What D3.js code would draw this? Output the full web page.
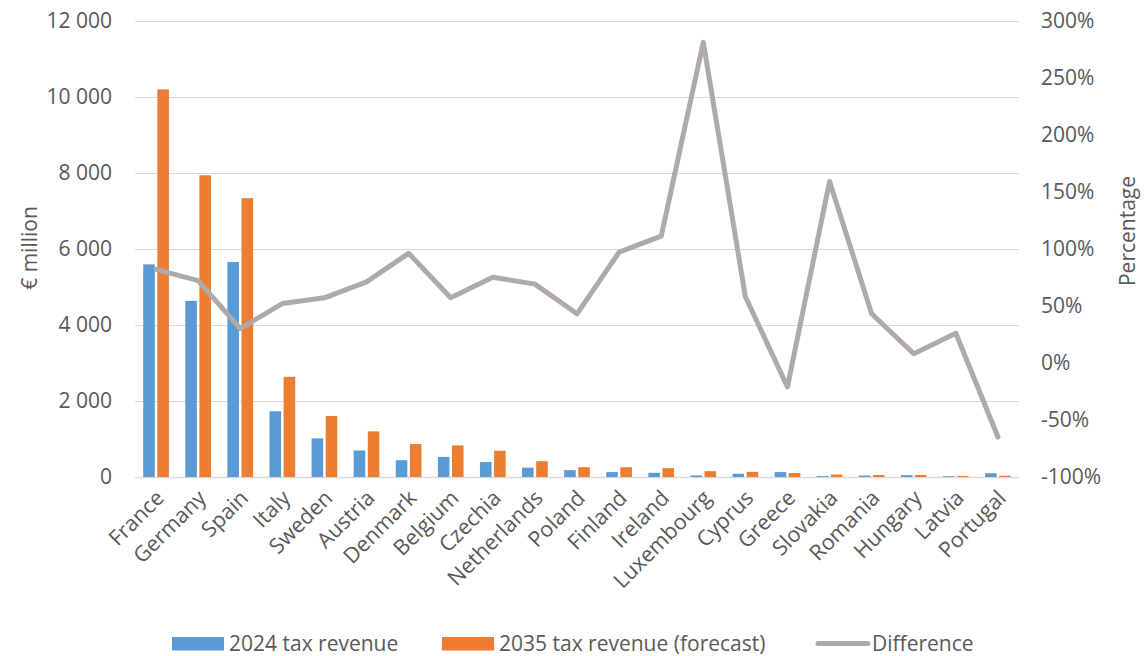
<!DOCTYPE html>
<html>
<head>
<meta charset="utf-8">
<script src="https://cdn.jsdelivr.net/npm/d3@7"></script>
<style>
  html, body { margin: 0; padding: 0; background: #ffffff; }
  svg { display: block; font-family: "Open Sans", sans-serif; }
</style>
</head>
<body>
<svg id="chart" width="1147" height="656"></svg>
<script>
// Tax revenue by country, € million, with percentage change on a second axis
const countries = ["France", "Germany", "Spain", "Italy", "Sweden", "Austria", "Denmark",
  "Belgium", "Czechia", "Netherlands", "Poland", "Finland", "Ireland", "Luxembourg",
  "Cyprus", "Greece", "Slovakia", "Romania", "Hungary", "Latvia", "Portugal"];
const revenue2024 = [5590, 4630, 5650, 1728, 1015, 697, 441, 528, 395, 245, 180, 130, 110,
  40, 85, 130, 25, 37, 48, 20, 98];
const revenue2035 = [10190, 7930, 7330, 2633, 1604, 1199, 865, 830, 690, 415, 258, 257, 232,
  153, 135, 103, 65, 53, 52, 25, 35];
const differencePct = [82, 72, 30, 52, 57, 71, 96, 57, 75, 69, 43, 97, 111, 281, 58, -21,
  159, 43, 8, 26, -65];
const leftTicks = [0, 2000, 4000, 6000, 8000, 10000, 12000];
const rightTicks = [-100, -50, 0, 50, 100, 150, 200, 250, 300];
const seriesNames = ["2024 tax revenue", "2035 tax revenue (forecast)", "Difference"];

const blue = "#5B9BD5", orange = "#ED7D31", grey = "#AEAAAA", textCol = "#595959";

const svg = d3.select("#chart");
const plot = { left: 135, right: 1019, top: 20.5, bottom: 477 };

const x = d3.scaleBand().domain(countries).range([plot.left, plot.right]).padding(0);
const inner = d3.scaleBand().domain(["a", "b"]).range([8.2, x.bandwidth() - 8.2]).paddingInner(0.18);
const yL = d3.scaleLinear().domain([0, 12000]).range([plot.bottom, plot.top]);
const yR = d3.scaleLinear().domain([-100, 300]).range([plot.bottom, plot.top]);

// gridlines from the left axis
svg.append("g").selectAll("line").data(leftTicks).join("line")
  .attr("x1", plot.left).attr("x2", plot.right)
  .attr("y1", d => Math.round(yL(d)) + 0.5).attr("y2", d => Math.round(yL(d)) + 0.5)
  .attr("stroke", "#D9D9D9").attr("stroke-width", d => d === 0 ? 1.5 : 1);

// left axis
const axL = svg.append("g").attr("transform", `translate(${plot.left},0)`)
  .call(d3.axisLeft(yL).tickValues(leftTicks).tickSize(0).tickPadding(23)
    .tickFormat(d => d3.format(",")(d).replace(/,/g, " ")));
axL.select(".domain").remove();
axL.selectAll("text").attr("font-size", 21).attr("fill", textCol).attr("font-family", "Open Sans");

// right axis
const axR = svg.append("g").attr("transform", `translate(${plot.right},0)`)
  .call(d3.axisRight(yR).tickValues(rightTicks).tickSize(0).tickPadding(22)
    .tickFormat(d => d + "%"));
axR.select(".domain").remove();
axR.selectAll("text").attr("font-size", 21).attr("fill", textCol).attr("font-family", "Open Sans");

// bars
const groups = svg.append("g").selectAll("g").data(countries).join("g")
  .attr("transform", d => `translate(${x(d)},0)`);
groups.append("rect")
  .attr("x", inner("a")).attr("width", inner.bandwidth())
  .attr("y", (d, i) => yL(revenue2024[i]))
  .attr("height", (d, i) => yL(0) - yL(revenue2024[i]))
  .attr("fill", blue);
groups.append("rect")
  .attr("x", inner("b")).attr("width", inner.bandwidth())
  .attr("y", (d, i) => yL(revenue2035[i]))
  .attr("height", (d, i) => yL(0) - yL(revenue2035[i]))
  .attr("fill", orange);

// difference line
const line = d3.line()
  .x((d, i) => x(countries[i]) + x.bandwidth() / 2)
  .y(d => yR(d));
svg.append("path").datum(differencePct)
  .attr("d", line).attr("fill", "none")
  .attr("stroke", grey).attr("stroke-width", 5)
  .attr("stroke-linejoin", "round").attr("stroke-linecap", "round");

// category labels, rotated
svg.append("g").selectAll("text").data(countries).join("text")
  .attr("transform", d => `translate(${x(d) + x.bandwidth() / 2 + 4},${plot.bottom + 17}) rotate(-45)`)
  .attr("text-anchor", "end").attr("dy", "0.35em")
  .attr("font-size", 21.5).attr("fill", textCol)
  .text(d => d);

// axis titles
svg.append("text")
  .attr("transform", "translate(30,248) rotate(-90)")
  .attr("text-anchor", "middle").attr("dy", "0.35em")
  .attr("font-size", 21).attr("fill", textCol).text("€ million");
svg.append("text")
  .attr("transform", "translate(1128,231) rotate(-90)")
  .attr("text-anchor", "middle").attr("dy", "0.35em")
  .attr("font-size", 21).attr("fill", textCol).text("Percentage");

// legend
const legend = svg.append("g");
const legendItems = [
  { name: seriesNames[0], type: "rect", color: blue, x: 172 },
  { name: seriesNames[1], type: "rect", color: orange, x: 442 },
  { name: seriesNames[2], type: "line", color: grey, x: 815 }
];
legendItems.forEach(it => {
  if (it.type === "rect") {
    legend.append("rect").attr("x", it.x).attr("y", 637).attr("width", 52).attr("height", 13.5)
      .attr("fill", it.color);
  } else {
    legend.append("line").attr("x1", it.x + 3).attr("x2", it.x + 53)
      .attr("y1", 643.5).attr("y2", 643.5)
      .attr("stroke", it.color).attr("stroke-width", 5).attr("stroke-linecap", "round");
  }
  legend.append("text").attr("x", it.x + 57).attr("y", 643.5).attr("dy", "0.35em")
    .attr("font-size", 21).attr("fill", textCol).text(it.name);
});
</script>
</body>
</html>
